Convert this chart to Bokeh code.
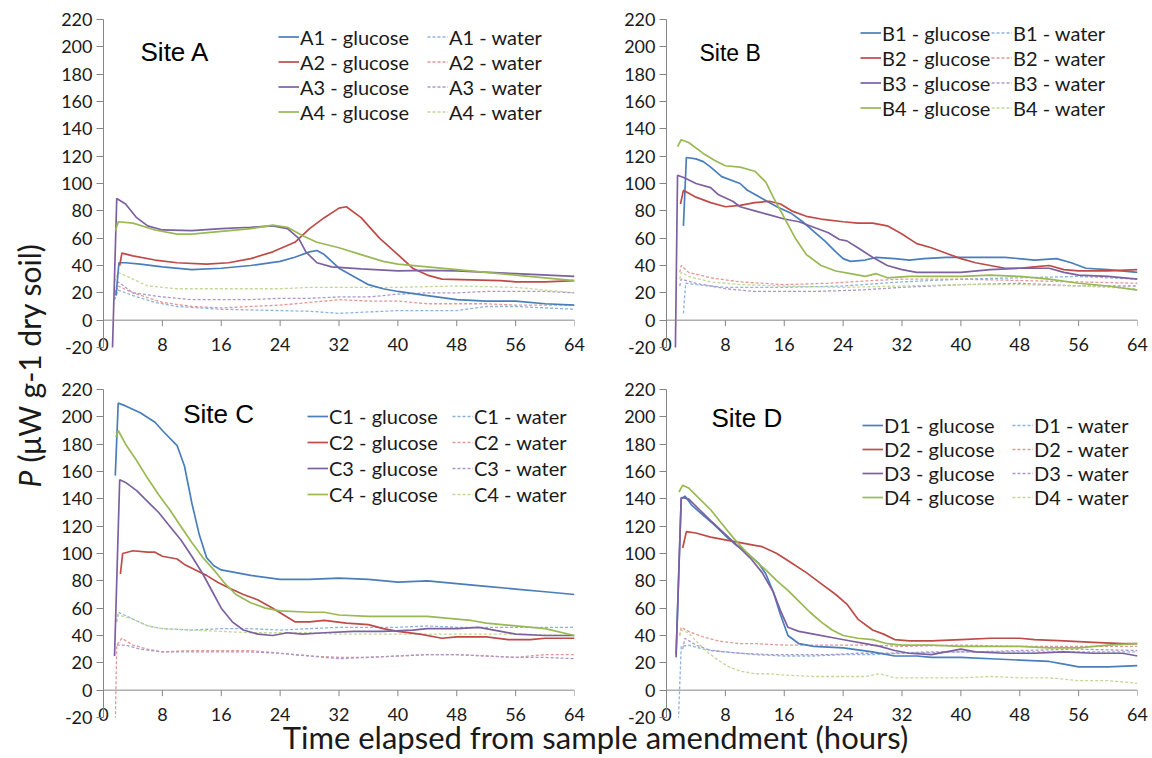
import math
from bokeh.plotting import figure
from bokeh.models import (Range1d, FixedTicker, Span, Label, Legend, LegendItem, LinearAxis)
from bokeh.layouts import row, column
from bokeh.embed import file_html
from bokeh.resources import INLINE

# ---------------------------------------------------------------- data
X_TICKS = [0, 8, 16, 24, 32, 40, 48, 56, 64]
Y_TICKS = [-20, 0, 20, 40, 60, 80, 100, 120, 140, 160, 180, 200, 220]
Y_TICK_LABELS = {t: str(t) for t in Y_TICKS}
SITES = ["A", "B", "C", "D"]
REPLICATES = ["1", "2", "3", "4"]
Y_TITLE_ITALIC = "P"
Y_TITLE_REST = "(\u03bcW g-1 dry soil)"
X_TITLE = "Time elapsed from sample amendment (hours)"

# ---- Site A
A1_GLUCOSE_T = [1.7, 2.1, 3, 5, 8, 12, 16, 20, 24, 26, 28, 29, 30, 32, 34, 36, 38, 40, 44, 48, 52, 56, 60, 64]
A1_GLUCOSE_P = [18, 42, 42, 41, 39, 37, 38, 40, 43, 46, 50, 51, 48, 38, 32, 26, 23, 21, 18, 15, 14, 14, 12, 11]
A2_GLUCOSE_T = [2.2, 2.5, 4, 7, 10, 14, 17, 20, 23, 26, 28, 30, 32, 33, 35, 37.5, 40, 42, 44, 46, 50, 54, 56, 60, 64]
A2_GLUCOSE_P = [40, 49, 47, 44, 42, 41, 42, 45, 50, 57, 67, 75, 82, 83, 75, 60, 48, 38, 33, 30, 29.5, 29, 28, 28, 29]
A3_GLUCOSE_T = [1.2, 1.8, 3, 4.5, 6, 8, 12, 16, 20, 23, 25, 26.5, 27.5, 29, 31, 35, 40, 44, 48, 56, 64]
A3_GLUCOSE_P = [-25, 89, 85, 75, 69, 66, 65.5, 67, 68, 69, 67, 60, 50, 42, 39, 37.5, 36, 36.5, 36, 34, 32]
A4_GLUCOSE_T = [1.6, 2, 4, 7, 10, 12, 16, 20, 23, 25, 27, 29, 32, 35, 38, 40, 44, 48, 52, 56, 60, 64]
A4_GLUCOSE_P = [65, 72, 71, 66, 63, 63, 65, 67, 69.5, 68, 62, 57, 53, 48, 43, 41, 39, 37, 35, 33, 31, 29]
A1_WATER_T = [1.5, 2, 4, 7, 10, 16, 24, 28, 32, 36, 40, 48, 52, 56, 60, 64]
A1_WATER_P = [15, 22, 18, 13, 10, 8, 7, 6.5, 5, 6, 7, 7, 10, 10, 9, 8]
A2_WATER_T = [1.5, 2, 4, 8, 12, 16, 20, 24, 28, 32, 36, 40, 44, 48, 52, 56, 60, 64]
A2_WATER_P = [18, 25, 20, 13, 10, 9, 10, 11, 13, 15, 14, 14, 12, 12, 12, 11, 11, 11]
A3_WATER_T = [1.5, 2, 4, 8, 12, 16, 20, 24, 28, 32, 36, 40, 44, 48, 52, 56, 60, 64]
A3_WATER_P = [20, 28, 20, 17, 15, 15, 15, 16, 16, 17, 17, 19, 20, 20, 21, 21, 21, 20]
A4_WATER_T = [1.5, 2, 4, 6, 10, 16, 24, 28, 32, 40, 48, 56, 60, 64]
A4_WATER_P = [28, 35, 30, 25, 23, 23, 23, 24, 24, 24, 25, 24, 22, 20]

# ---- Site B
B1_GLUCOSE_T = [2.3, 2.7, 4, 5, 6, 7.5, 10, 11, 13, 15, 17, 18.5, 20, 21.5, 23, 24, 25, 27, 28.5, 31, 33, 35, 38, 42, 46, 50, 53, 55, 57, 60, 64]
B1_GLUCOSE_P = [69, 119, 118, 116, 112, 105, 100, 95, 89, 83, 78, 72, 65, 58, 50, 45, 43, 44, 46, 45, 44, 45, 46, 46, 46, 44, 45, 42, 38, 37, 35]
B2_GLUCOSE_T = [1.9, 2.3, 4, 6, 8, 10, 12, 14, 15.5, 17, 19, 21, 24, 26, 28, 30, 32, 34, 36, 38, 40, 42, 44, 46, 48, 50, 52, 54, 56, 60, 64]
B2_GLUCOSE_P = [85, 95, 90, 86, 83, 84, 86, 87, 85, 80, 76, 74, 72, 71, 71, 69, 63, 56, 53, 49, 45, 42, 40, 38, 38, 39, 40, 37, 36, 36, 37]
B3_GLUCOSE_T = [1.2, 1.5, 2.5, 4, 6, 7, 9, 10, 12, 14, 16, 18, 20, 22, 23.5, 24.5, 26, 28, 30, 32, 34, 38, 40, 44, 48, 52, 54, 56, 60, 64]
B3_GLUCOSE_P = [-25, 106, 104, 100, 97, 92, 87, 83, 80, 77, 74, 72, 68, 64, 59, 58, 53, 46, 40, 37, 35, 35, 35, 37, 38, 38, 35, 33, 32, 30]
B4_GLUCOSE_T = [1.5, 2, 3, 5, 6.5, 8, 10, 12, 13.5, 14.5, 16, 17.5, 19, 21, 23, 25, 27, 28.5, 30, 33, 36, 40, 44, 48, 52, 56, 60, 64]
B4_GLUCOSE_P = [127, 132, 130, 122, 117, 113, 112, 109, 101, 90, 75, 60, 48, 40, 36, 34, 32, 34, 31, 32, 32, 32, 33, 32, 30, 27, 25, 22]
B1_WATER_T = [2.3, 2.6, 4, 8, 16, 24, 32, 40, 48, 56, 64]
B1_WATER_P = [5, 27, 26, 24, 24, 25, 28, 30, 31, 32, 30]
B2_WATER_T = [1.8, 2, 3, 6, 10, 16, 22, 28, 32, 40, 48, 56, 64]
B2_WATER_P = [35, 40, 35, 31, 28, 26, 27, 29, 30, 30, 29, 28, 27]
B3_WATER_T = [1.8, 2, 4, 8, 12, 20, 26, 32, 40, 48, 56, 64]
B3_WATER_P = [25, 30, 27, 23, 21, 21, 22, 24, 26, 27, 25, 25]
B4_WATER_T = [1.8, 2, 3, 6, 10, 16, 24, 32, 40, 48, 56, 64]
B4_WATER_P = [30, 35, 32, 28, 26, 25, 24, 25, 26, 26, 25, 23]

# ---- Site C
C1_GLUCOSE_T = [1.6, 2, 3, 5, 7, 8, 10, 11, 12, 13, 14, 15, 16, 20, 24, 28, 32, 36, 40, 44, 48, 52, 56, 60, 64]
C1_GLUCOSE_P = [157, 210, 208, 203, 196, 190, 179, 164, 137, 114, 97, 91, 88, 84, 81, 81, 82, 81, 79, 80, 78, 76, 74, 72, 70]
C2_GLUCOSE_T = [2.3, 2.6, 4, 6, 7, 8, 10, 11, 12.5, 14, 15.5, 17, 19, 21, 23, 24.5, 26, 28, 30, 33, 36, 38, 40, 43, 46, 48, 52, 55, 58, 60, 64]
C2_GLUCOSE_P = [85, 100, 102, 101, 101, 98, 96, 92, 88, 84, 79, 75, 70, 66, 60, 55, 50, 50, 51, 49, 48, 45, 43, 41, 38, 39, 39, 37, 37, 38, 38]
C3_GLUCOSE_T = [1.5, 2.2, 3, 4.5, 6, 7.5, 9, 10.5, 12, 13.5, 15, 16, 17.5, 19, 21, 23, 25, 27, 30, 34, 38, 42, 44, 48, 51, 54, 56, 60, 64]
C3_GLUCOSE_P = [25, 154, 152, 146, 138, 130, 120, 110, 98, 85, 70, 60, 50, 44, 41, 40, 42, 41, 42, 43, 43, 44, 45, 45, 46, 43, 41, 40, 40]
C4_GLUCOSE_T = [1.7, 2, 3, 4.5, 6, 7.5, 9, 10.5, 12, 13.5, 15, 16.5, 18, 20, 22, 24, 28, 30, 32, 36, 40, 44, 48, 50, 52, 56, 60, 64]
C4_GLUCOSE_P = [185, 190, 180, 168, 155, 143, 132, 120, 108, 97, 88, 78, 70, 64, 60, 58, 57, 57, 55, 54, 54, 54, 52, 51, 49, 47, 45, 40]
C1_WATER_T = [1.8, 2, 4, 6, 8, 12, 16, 20, 24, 28, 32, 40, 44, 48, 56, 64]
C1_WATER_P = [50, 57, 52, 47, 45, 44, 45, 45, 44, 45, 46, 46, 47, 46, 46, 46]
C2_WATER_T = [1.6, 1.8, 2.5, 4, 6, 8, 12, 16, 20, 24, 28, 32, 36, 40, 44, 48, 52, 56, 60, 64]
C2_WATER_P = [-25, 33, 38, 33, 30, 28, 29, 29, 29, 27, 25, 24, 24, 25, 26, 26, 25, 24, 26, 26]
C3_WATER_T = [1.8, 3, 5, 8, 12, 16, 20, 24, 28, 32, 36, 40, 44, 48, 52, 56, 60, 64]
C3_WATER_P = [33, 33, 30, 28, 28, 28, 28, 27, 25, 23, 24, 25, 26, 26, 25, 24, 24, 23]
C4_WATER_T = [1.8, 2, 4, 6, 8, 12, 16, 20, 24, 28, 32, 40, 48, 56, 64]
C4_WATER_P = [50, 55, 52, 47, 45, 44, 43, 42, 42, 42, 41, 41, 41, 41, 40]

# ---- Site D
D1_GLUCOSE_T = [1.3, 2, 2.5, 3.5, 5, 6.5, 8, 9.5, 11, 12.5, 13.5, 14.5, 15.5, 16.5, 18, 20, 24, 28, 31, 34, 36, 40, 44, 48, 52, 54, 56, 60, 64]
D1_GLUCOSE_P = [26, 140, 142, 135, 128, 121, 113, 106, 100, 93, 85, 72, 55, 40, 34, 32, 31, 28, 25, 25, 24, 24, 23, 22, 21, 19, 17, 17, 18]
D2_GLUCOSE_T = [2.2, 2.7, 4, 6, 8, 10, 12, 13, 15, 17, 19, 21, 23, 24.5, 26, 28, 29.5, 31, 33, 36, 40, 44, 48, 50, 54, 58, 62, 64]
D2_GLUCOSE_P = [104, 116, 115, 112, 110, 108, 106, 105, 100, 93, 86, 78, 70, 63, 52, 44, 41, 37, 36, 36, 37, 38, 38, 37, 36, 35, 34, 34]
D3_GLUCOSE_T = [1.3, 2, 3, 4.5, 6, 8, 10, 11.5, 13, 14.5, 15.5, 16.5, 18, 20, 23, 25, 27, 29, 31, 33, 36, 38, 40, 42, 46, 50, 54, 58, 62, 64]
D3_GLUCOSE_P = [24, 141, 140, 132, 124, 114, 104, 96, 86, 72, 58, 46, 43, 41, 38, 36, 34, 32, 29, 27, 26, 28, 30, 28, 27, 27, 28, 27, 27, 25]
D4_GLUCOSE_T = [1.7, 2.2, 3, 4.5, 6, 7.5, 9, 10.5, 12, 13.5, 15, 16.5, 18, 19.5, 21, 22.5, 24, 26, 28, 30, 32, 36, 40, 44, 48, 52, 56, 60, 64]
D4_GLUCOSE_P = [145, 150, 148, 140, 132, 122, 112, 103, 95, 88, 80, 73, 65, 57, 50, 44, 40, 38, 37, 34, 33, 33, 32, 32, 32, 31, 31, 33, 34]
D1_WATER_T = [1.6, 2, 3, 5, 8, 12, 16, 20, 24, 28, 32, 40, 48, 56, 64]
D1_WATER_P = [-25, 32, 33, 30, 28, 26, 25, 25, 26, 26, 27, 28, 28, 28, 28]
D2_WATER_T = [1.8, 2, 3, 5, 7, 10, 12, 16, 20, 24, 28, 32, 40, 48, 56, 64]
D2_WATER_P = [40, 46, 43, 39, 36, 34, 34, 33, 33, 33, 33, 32, 33, 32, 32, 32]
D3_WATER_T = [2.2, 2.5, 4, 6, 10, 14, 18, 22, 26, 30, 36, 42, 48, 56, 64]
D3_WATER_P = [30, 38, 33, 29, 27, 26, 26, 26, 27, 27, 28, 28, 29, 30, 29]
D4_WATER_T = [1.8, 2, 3, 4, 5.5, 7, 8.5, 10, 12, 14, 16, 20, 24, 27, 29, 31, 36, 40, 44, 48, 52, 56, 60, 64]
D4_WATER_P = [40, 44, 42, 36, 28, 22, 17, 14, 12, 12, 11, 10, 10, 10, 12, 9, 9, 9, 10, 9, 9, 7, 7, 5]

# ---------------------------------------------------------------- style
GLUCOSE_COLORS = ["#4A7EBB", "#BE4B48", "#7D60A0", "#98B954"]
WATER_COLORS = ["#8DB2DF", "#E29896", "#AA98CA", "#C3D897"]
AXIS_COLOR = "#868686"
TEXT_COLOR = "#1a1a1a"
CAL_FONT = "Lato"
SITE_FONT = "Liberation Sans"
TICK_FONT_SIZE = "18px"

FRAME_W, FRAME_H = 471, 328
YTITLE_W = 50
TICK_PX = 6
TOTAL_H = 758
XTITLE_OVERLAP = 25

# per-panel borders: (left, right, top, bottom)
BORDERS = {"A": (53, 20, 19, 23), "B": (72, 15, 19, 23),
           "C": (53, 20, 19, 20), "D": (72, 15, 19, 20)}
# site label: (x in hours, y in data units, font size)
SITE_LABEL = {"A": (5.03, 196.4, "26px"), "B": (4.48, 195.3, "23px"),
              "C": (10.83, 202.3, "26px"), "D": (6.11, 199.5, "26px")}
# legends: (glucose x px, water x px, bottom y px, row height px)
LEGEND_POS = {"A": (175, 324, 223, 25), "B": (194, 325, 227, 25),
              "C": (204, 349, 210, 26), "D": (196, 346, 208, 24)}

G = globals()


def series(site, rep, kind):
    return G[f"{site}{rep}_{kind}_T"], G[f"{site}{rep}_{kind}_P"]


def make_panel(site):
    left, right, top, bottom = BORDERS[site]
    p = figure(width=left + FRAME_W + right, height=top + FRAME_H + bottom,
               x_range=Range1d(X_TICKS[0], X_TICKS[-1]),
               y_range=Range1d(Y_TICKS[0], Y_TICKS[-1]),
               x_axis_location=None, y_axis_location="left",
               output_backend="svg", toolbar_location=None,
               min_border_left=left, min_border_right=right,
               min_border_top=top, min_border_bottom=bottom)
    p.outline_line_color = None
    p.xgrid.visible = False
    p.ygrid.visible = False
    p.background_fill_color = "white"
    p.border_fill_color = "white"

    ax = p.yaxis[0]
    ax.ticker = FixedTicker(ticks=Y_TICKS, minor_ticks=[])
    ax.major_label_overrides = Y_TICK_LABELS
    ax.axis_line_color = AXIS_COLOR
    ax.major_tick_line_color = AXIS_COLOR
    ax.major_tick_in = 0
    ax.major_tick_out = 7
    ax.minor_tick_out = 0
    ax.major_label_standoff = 4
    ax.major_label_text_font = CAL_FONT
    ax.major_label_text_font_size = TICK_FONT_SIZE
    ax.major_label_text_color = TEXT_COLOR

    # x tick labels: drawn at the bottom edge of the plot area
    xax = LinearAxis(ticker=FixedTicker(ticks=X_TICKS, minor_ticks=[]),
                     axis_line_color=None, major_tick_line_color=None,
                     minor_tick_line_color=None, major_tick_in=0, major_tick_out=0,
                     minor_tick_in=0, minor_tick_out=0, major_label_standoff=-10,
                     major_label_text_font=CAL_FONT,
                     major_label_text_font_size=TICK_FONT_SIZE,
                     major_label_text_color=TEXT_COLOR)
    p.add_layout(xax, "below")

    # horizontal axis line at zero, ticks below it
    p.add_layout(Span(location=0, dimension="width", line_color=AXIS_COLOR, line_width=1))
    tick_units = TICK_PX * (Y_TICKS[-1] - Y_TICKS[0]) / FRAME_H
    p.segment(x0=X_TICKS, y0=[0] * len(X_TICKS), x1=X_TICKS,
              y1=[-tick_units] * len(X_TICKS), line_color=AXIS_COLOR, line_width=1)

    water_r, glu_r = [], []
    for i, rep in enumerate(REPLICATES):
        t, v = series(site, rep, "WATER")
        water_r.append(p.line(t, v, line_color=WATER_COLORS[i], line_width=1.3,
                              line_dash="3 2"))
    for i, rep in enumerate(REPLICATES):
        t, v = series(site, rep, "GLUCOSE")
        glu_r.append(p.line(t, v, line_color=GLUCOSE_COLORS[i], line_width=1.7))

    gx, wx, ly, rh = LEGEND_POS[site]
    for xoff, rends, kind in ((gx, glu_r, "glucose"), (wx, water_r, "water")):
        items = [LegendItem(label=f"{site}{rep} - {kind}", renderers=[r])
                 for rep, r in zip(REPLICATES, rends)]
        leg = Legend(items=items, location=(xoff, ly), orientation="vertical",
                     glyph_width=21, glyph_height=rh, label_height=rh,
                     label_standoff=1, spacing=0, padding=0, margin=0,
                     border_line_color=None, background_fill_alpha=0,
                     label_text_font=CAL_FONT, label_text_font_size="20px",
                     label_text_color=TEXT_COLOR)
        p.add_layout(leg)

    sx, sy, fs = SITE_LABEL[site]
    p.add_layout(Label(x=sx, y=sy, text=f"Site {site}", text_font=SITE_FONT,
                       text_font_size=fs, text_color="black",
                       text_align="left", text_baseline="alphabetic"))
    return p


panels = {s: make_panel(s) for s in SITES}

top_h = BORDERS["A"][2] + FRAME_H + BORDERS["A"][3]
bot_h = BORDERS["C"][2] + FRAME_H + BORDERS["C"][3]
grid_w = sum(BORDERS["A"][:2]) + sum(BORDERS["B"][:2]) + 2 * FRAME_W
xt_h = TOTAL_H - top_h - bot_h + XTITLE_OVERLAP


def blank_fig(w, h):
    f = figure(width=w, height=h, x_range=Range1d(0, w), y_range=Range1d(0, h),
               output_backend="svg", toolbar_location=None,
               x_axis_location=None, y_axis_location=None,
               min_border_left=0, min_border_right=0, min_border_top=0, min_border_bottom=0)
    f.outline_line_color = None
    f.xgrid.visible = False
    f.ygrid.visible = False
    f.background_fill_color = None
    f.border_fill_color = None
    return f


# y title
yfig = blank_fig(YTITLE_W, TOTAL_H)
yt_x, yt_y = 28, TOTAL_H - 487
yfig.add_layout(Label(x=yt_x, y=yt_y, text=Y_TITLE_ITALIC, angle=math.pi / 2,
                      text_font=CAL_FONT, text_font_style="italic", text_font_size="30px",
                      text_color=TEXT_COLOR, text_align="left", text_baseline="middle"))
yfig.add_layout(Label(x=yt_x, y=yt_y + 25, text=Y_TITLE_REST, angle=math.pi / 2,
                      text_font=CAL_FONT, text_font_size="30px",
                      text_color=TEXT_COLOR, text_align="left", text_baseline="middle"))

# x title (overlaps the bottom border of the lower panels)
xfig = blank_fig(grid_w, xt_h)
xfig.margin = (-XTITLE_OVERLAP, 0, 0, 0)
xfig.add_layout(Label(x=595 - YTITLE_W, y=22, text=X_TITLE,
                      text_font=CAL_FONT, text_font_size="31px", text_color=TEXT_COLOR,
                      text_align="center", text_baseline="alphabetic"))

layout = row(yfig, column(row(panels["A"], panels["B"]),
                          row(panels["C"], panels["D"]), xfig))

open("out.html", "w").write(file_html(layout, INLINE))
